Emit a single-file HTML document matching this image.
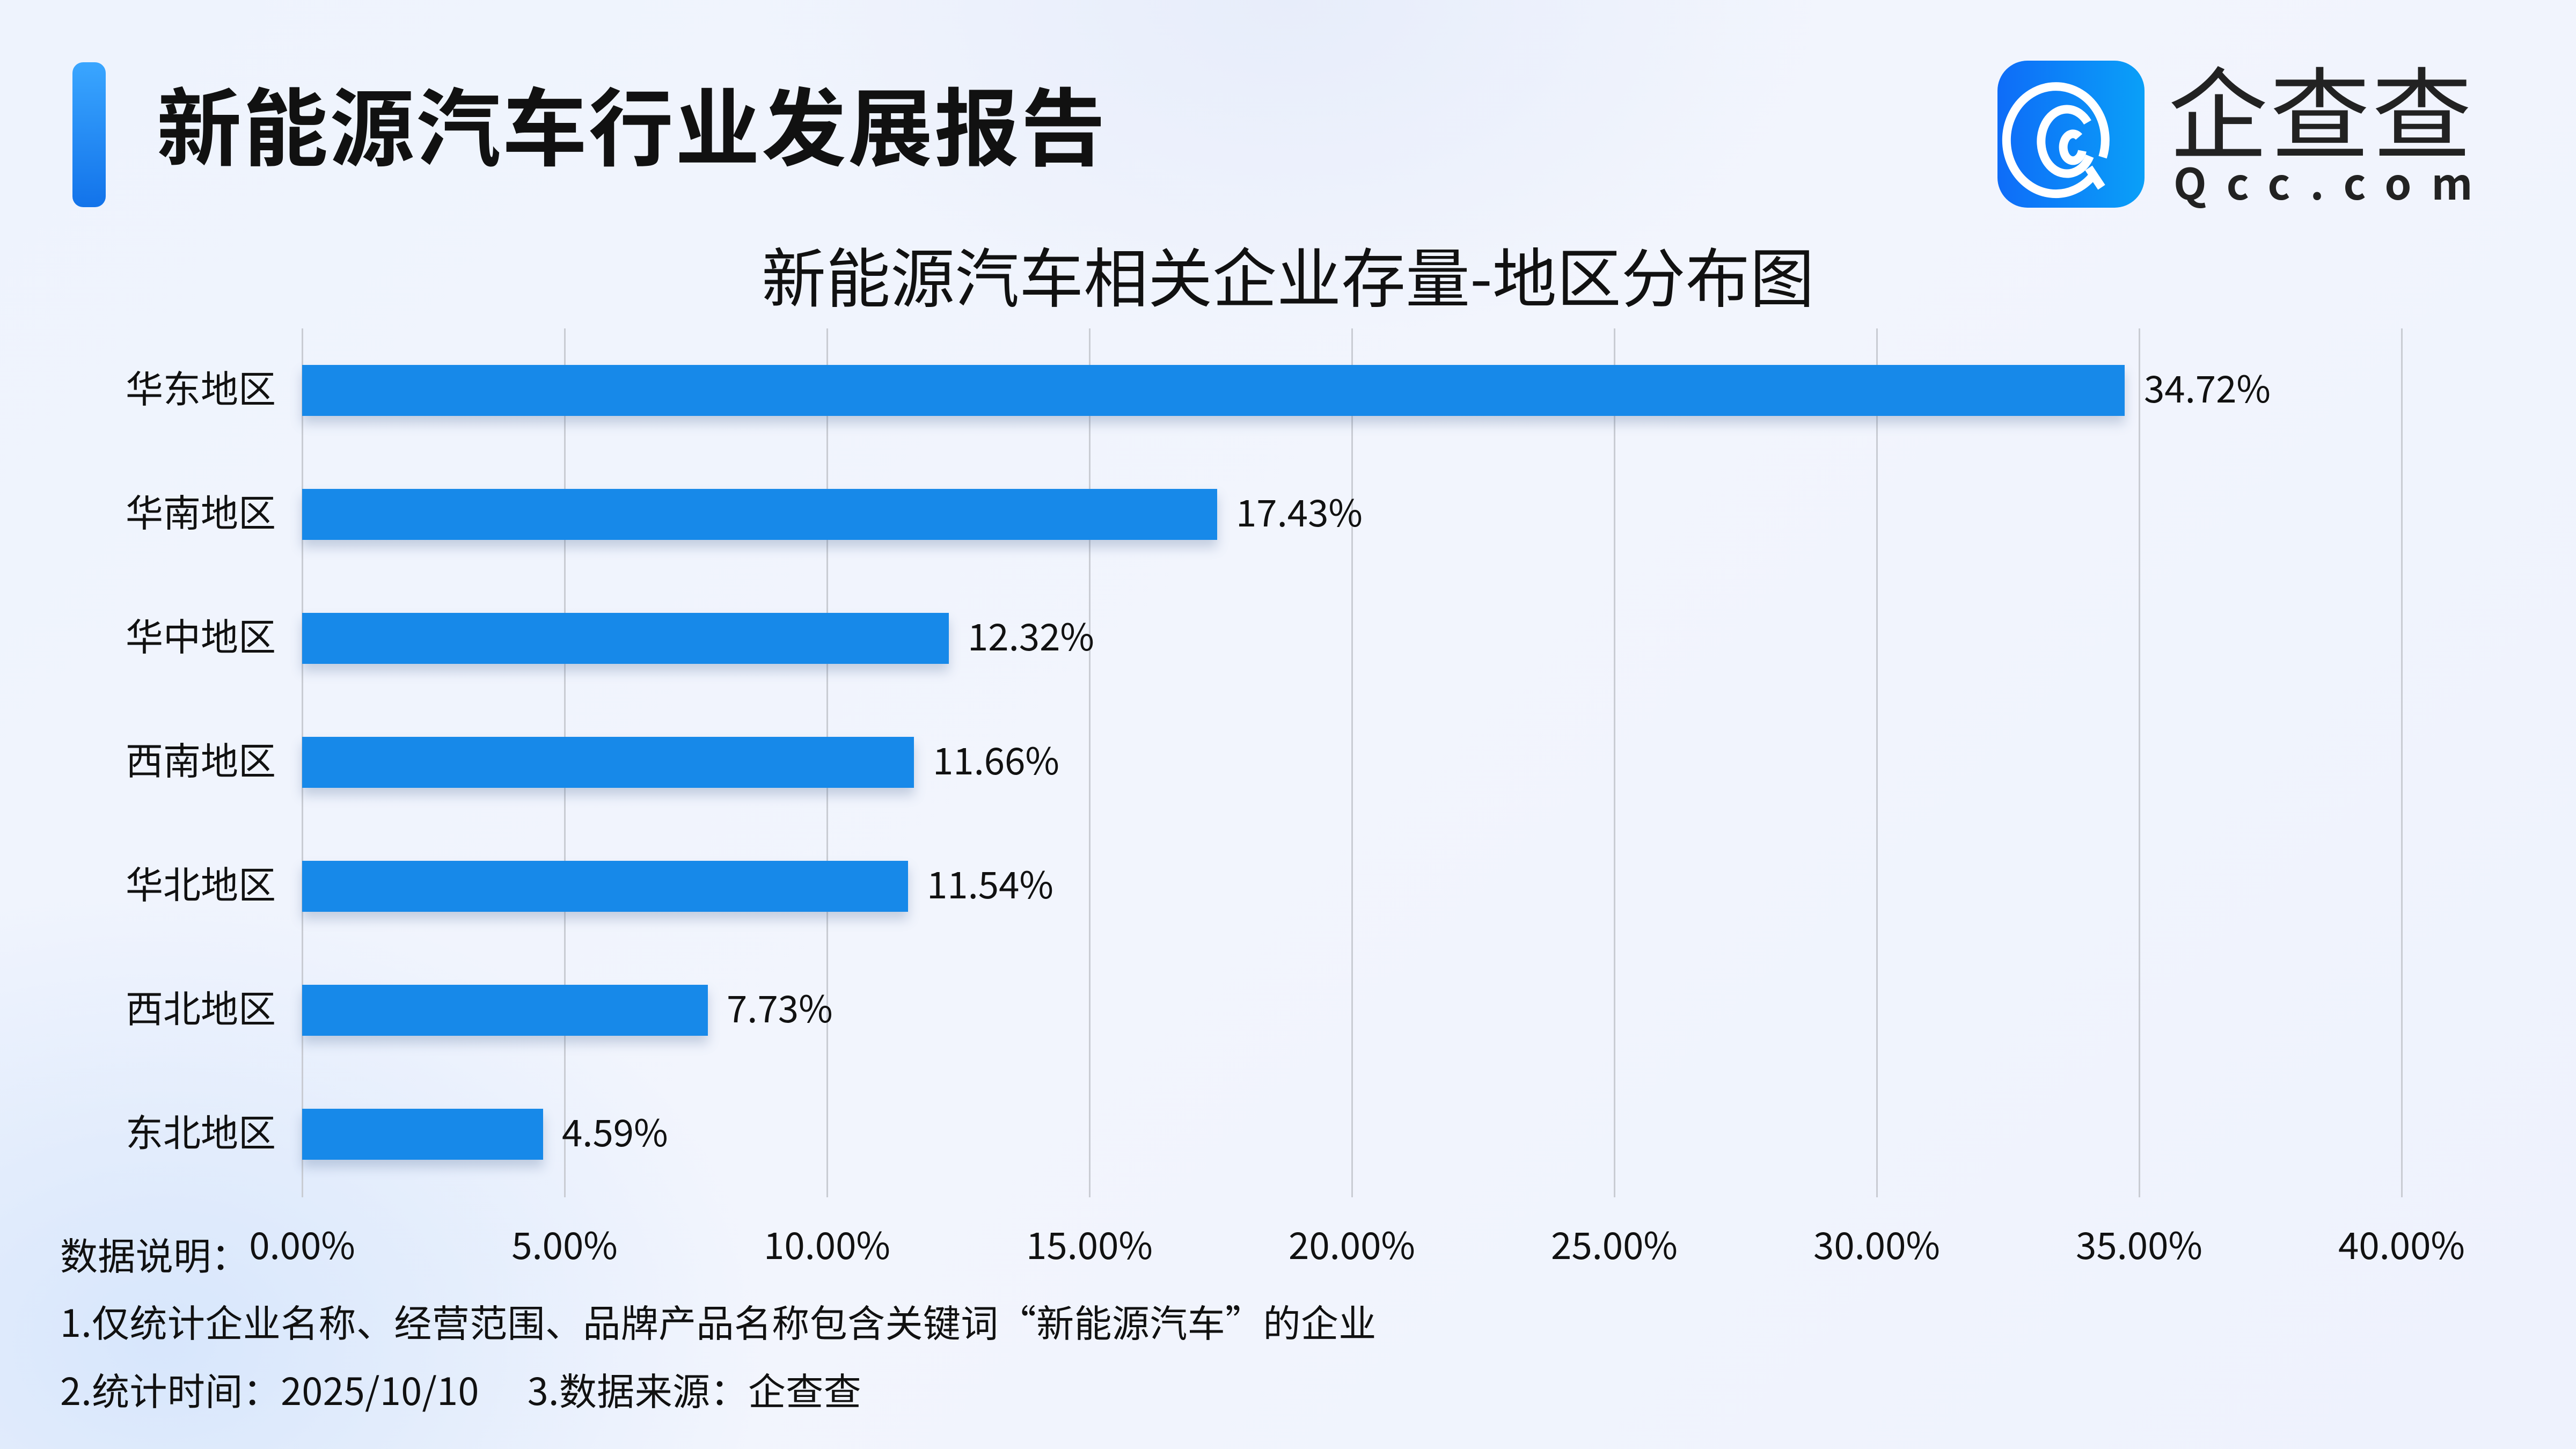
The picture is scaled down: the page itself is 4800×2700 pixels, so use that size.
<!DOCTYPE html>
<html><head><meta charset="utf-8"><style>
*{margin:0;padding:0;box-sizing:border-box}
body{width:4800px;height:2700px;overflow:hidden;position:relative;font-family:"Noto Sans CJK SC","Liberation Sans",sans-serif;color:#222;
background:radial-gradient(ellipse 1400px 900px at 2400px 0px,rgba(230,236,250,0.9),rgba(255,255,255,0) 70%),
radial-gradient(ellipse 1600px 1200px at 300px 2500px,rgba(215,230,252,1),rgba(255,255,255,0) 70%),
linear-gradient(135deg,#eef3fd 0%,#f2f5fd 50%,#eef2fd 100%);}
.a{position:absolute;white-space:nowrap}
.cat{position:absolute;right:4286px;font-size:70px;line-height:70px;color:#111}
.bar{position:absolute;left:563px;height:95px;background:#1789e9;box-shadow:0 14px 20px rgba(60,90,140,0.25)}
.val{position:absolute;font-size:69px;line-height:69px;color:#111}
.grid{position:absolute;top:612px;height:1619px;width:3px;background:#c9ccd3}
.tick{position:absolute;top:2282px;font-size:69px;line-height:69px;color:#111;transform:translateX(-50%)}
.note{position:absolute;left:112px;font-size:70px;line-height:70px;color:#111;letter-spacing:0.4px}
</style></head><body>
<div class="a" style="left:135px;top:116px;width:62px;height:270px;border-radius:20px;background:linear-gradient(180deg,#3aa6ff,#1273ea)"></div>
<div class="a" style="left:292px;top:138px;font-size:158px;line-height:180px;font-weight:bold;color:#111;letter-spacing:3px">新能源汽车行业发展报告</div>
<div class="a" style="left:3722px;top:113px;width:274px;height:274px;border-radius:56px;background:linear-gradient(90deg,#0e6cf8,#0aa0f8)">
<svg width="274" height="274" viewBox="0 0 274 274"><g fill="none" stroke="#fff" stroke-width="16" stroke-linecap="butt">
<path d="M178 214 A92 100 0 1 1 196 180"/>
<path d="M168 115 A48 60 0 1 0 172 178"/>
<path d="M152 142 A18 25 0 1 0 158 168"/>
<path d="M170 200 L194 236"/></g></svg></div>
<div class="a" style="left:4040px;top:100px;font-size:186px;line-height:200px;color:#222;letter-spacing:4px">企查查</div>
<div class="a" style="left:4050px;top:296px;font-size:80px;line-height:84px;font-weight:bold;color:#222;letter-spacing:37px">Qcc.com</div>
<div class="a" style="left:0;width:4800px;text-align:center;top:440px;font-size:120px;line-height:140px;color:#111">新能源汽车相关企业存量-地区分布图</div>

<div class="grid" style="left:562px"></div>
<div class="grid" style="left:1051px"></div>
<div class="grid" style="left:1540px"></div>
<div class="grid" style="left:2029px"></div>
<div class="grid" style="left:2518px"></div>
<div class="grid" style="left:3007px"></div>
<div class="grid" style="left:3496px"></div>
<div class="grid" style="left:3985px"></div>
<div class="grid" style="left:4474px"></div>

<div class="bar" style="top:680px;width:3396px"></div>
<div class="bar" style="top:911px;width:1705px"></div>
<div class="bar" style="top:1142px;width:1205px"></div>
<div class="bar" style="top:1373px;width:1140px"></div>
<div class="bar" style="top:1604px;width:1129px"></div>
<div class="bar" style="top:1835px;width:756px"></div>
<div class="bar" style="top:2066px;width:449px"></div>

<div class="cat" style="top:686px">华东地区</div>
<div class="cat" style="top:917px">华南地区</div>
<div class="cat" style="top:1148px">华中地区</div>
<div class="cat" style="top:1379px">西南地区</div>
<div class="cat" style="top:1610px">华北地区</div>
<div class="cat" style="top:1841px">西北地区</div>
<div class="cat" style="top:2072px">东北地区</div>

<div class="val" style="top:686px;left:3995px">34.72%</div>
<div class="val" style="top:917px;left:2303px">17.43%</div>
<div class="val" style="top:1148px;left:1803px">12.32%</div>
<div class="val" style="top:1379px;left:1738px">11.66%</div>
<div class="val" style="top:1610px;left:1727px">11.54%</div>
<div class="val" style="top:1841px;left:1354px">7.73%</div>
<div class="val" style="top:2072px;left:1047px">4.59%</div>

<div class="tick" style="left:563px">0.00%</div>
<div class="tick" style="left:1052px">5.00%</div>
<div class="tick" style="left:1541px">10.00%</div>
<div class="tick" style="left:2030px">15.00%</div>
<div class="tick" style="left:2519px">20.00%</div>
<div class="tick" style="left:3008px">25.00%</div>
<div class="tick" style="left:3497px">30.00%</div>
<div class="tick" style="left:3986px">35.00%</div>
<div class="tick" style="left:4475px">40.00%</div>

<div class="note" style="top:2302px">数据说明：</div>
<div class="note" style="top:2427px">1.仅统计企业名称、经营范围、品牌产品名称包含关键词“新能源汽车”的企业</div>
<div class="note" style="top:2554px">2.统计时间：2025/10/10<span style="display:inline-block;width:90px"></span>3.数据来源：企查查</div>
</body></html>
